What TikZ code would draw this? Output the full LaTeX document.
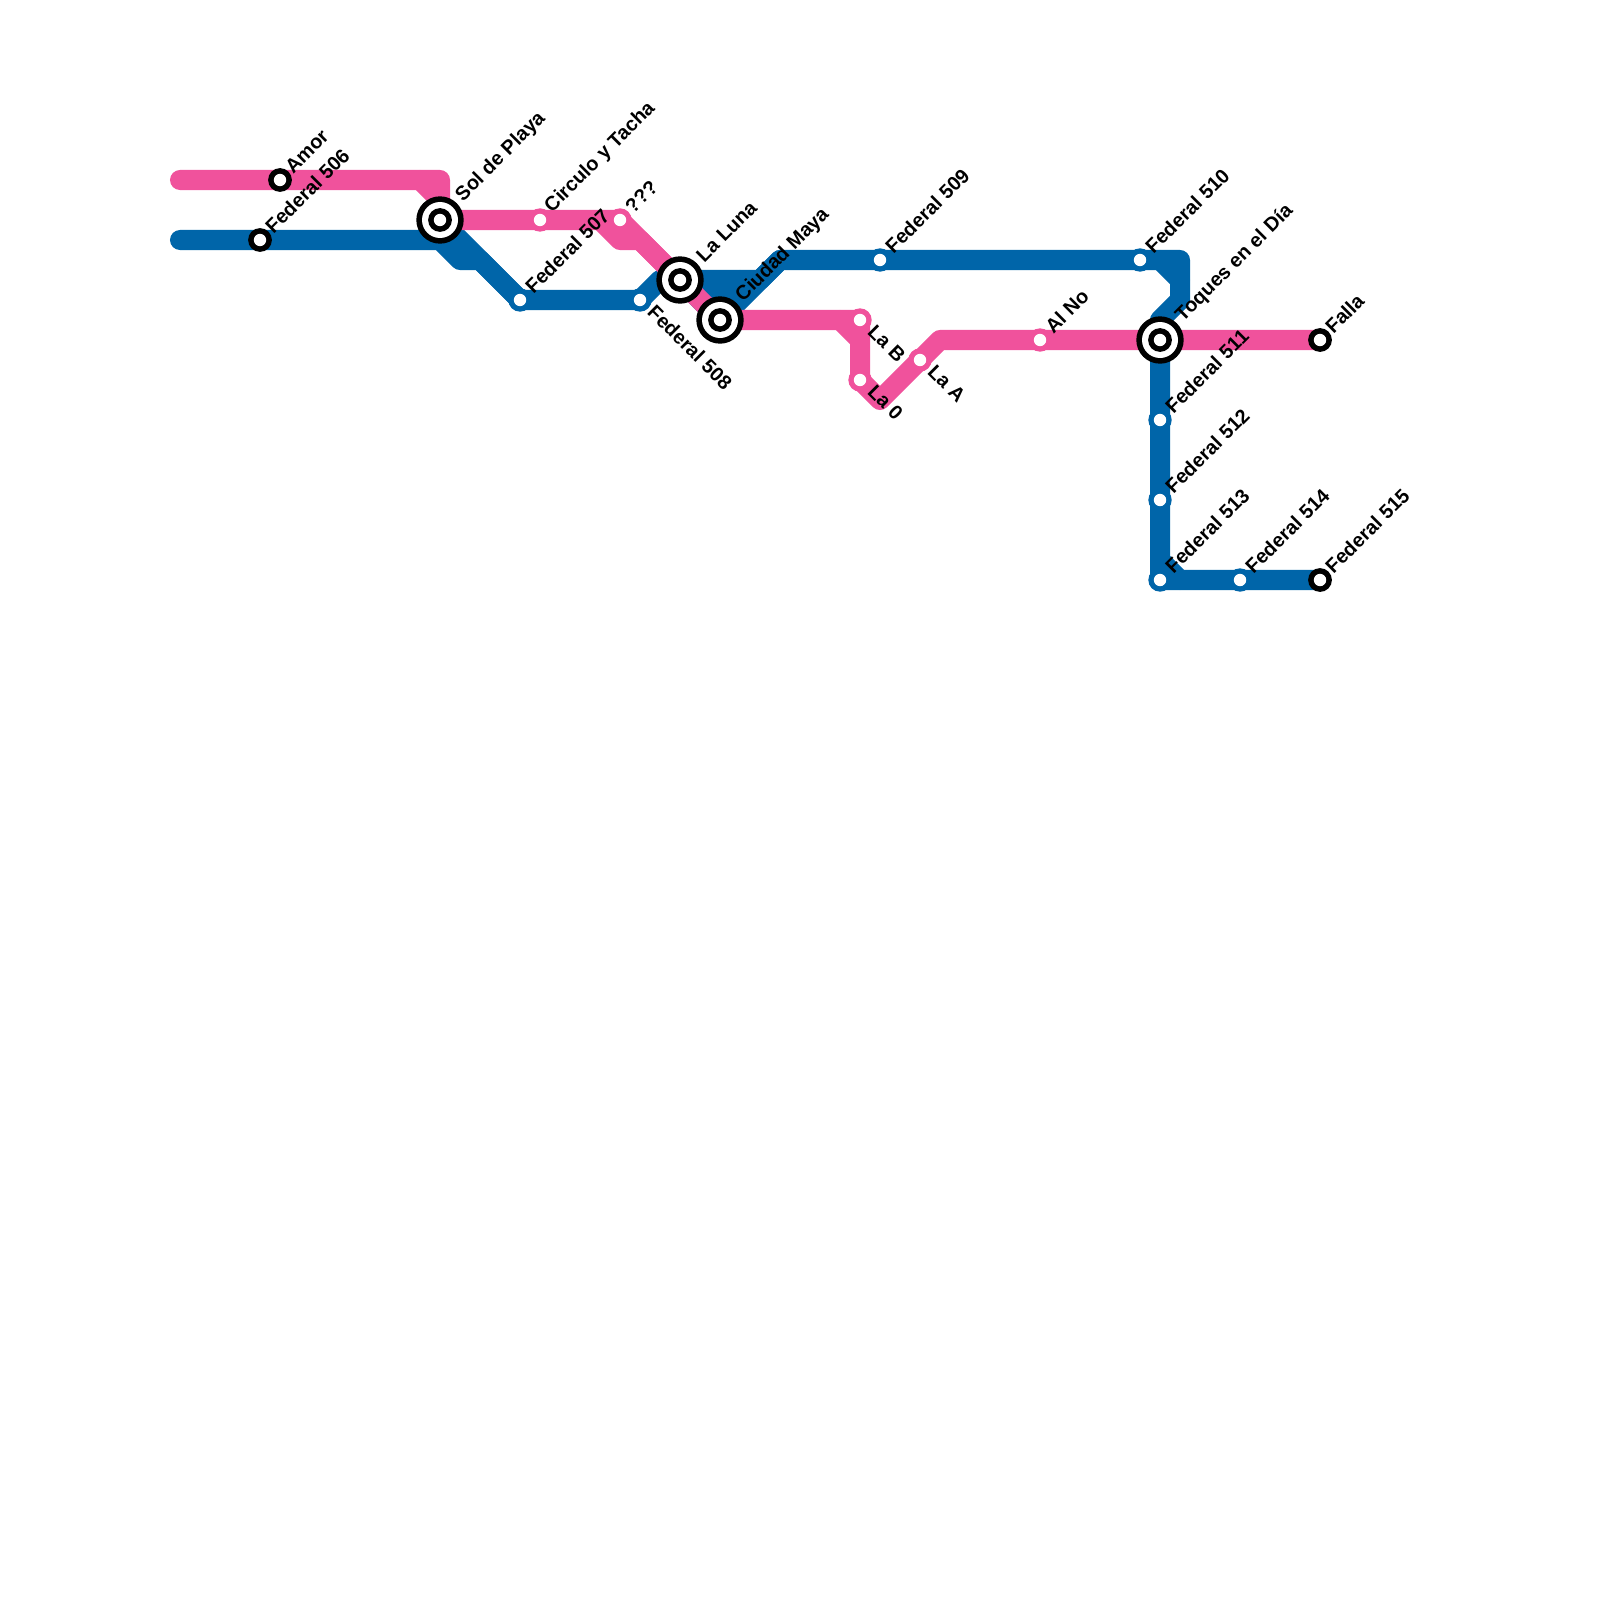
\documentclass[tikz,border=0pt]{standalone}
\usepackage{fontspec}
\setmainfont{Liberation Sans}
\usetikzlibrary{positioning}
\definecolor{lineblue}{HTML}{0065A9}
\definecolor{linepink}{HTML}{F0529C}
\tikzset{
  blueline/.style={lineblue, line width=5.69pt, line cap=round, line join=round},
  pinkline/.style={linepink, line width=5.69pt, line cap=round, line join=round},
  stationname/.style={font=\fontsize{5.65pt}{6.5pt}\selectfont\bfseries, rotate=45, anchor=west, inner sep=0pt, text=black},
  stationnamedown/.style={font=\fontsize{5.65pt}{6.5pt}\selectfont\bfseries, rotate=-45, anchor=west, inner sep=0pt, text=black}
}
\newcommand{\smallstop}[2]{%
  \fill[#1] (#2) circle (11.7);
  \fill[white] (#2) circle (6.2);
}
\newcommand{\termstop}[1]{%
  \fill[black] (#1) circle (11.9);
  \fill[white] (#1) circle (6.2);
}
\newcommand{\bigstop}[1]{%
  \fill[black] (#1) circle (23.7);
  \fill[white] (#1) circle (18);
  \fill[black] (#1) circle (11.9);
  \fill[white] (#1) circle (6.2);
}
\begin{document}
\begin{tikzpicture}[x=0.01cm, y=-0.01cm]
  \useasboundingbox (0,0) rectangle (1600,1600);
  % Stationen
  \foreach \name/\x/\y in {amor/280/180, fed506/260/240, sol/440/220, circulo/540/220,
    fed507/520/300, unknown/620/220, fed508/640/300, luna/680/280, maya/720/320,
    fed509/880/260, lab/860/320, lacero/860/380, laa/920/360, alno/1040/340,
    fed510/1140/260, toques/1160/340, falla/1320/340, fed511/1160/420,
    fed512/1160/500, fed513/1160/580, fed514/1240/580, fed515/1320/580}{
    \coordinate (\name) at (\x,\y);
  }
  % Eckpunkte
  \coordinate (pinkstart) at (180,180);
  \coordinate (bluestart) at (180,240);
  % blaue Linie
  \draw[blueline] (bluestart) -- (fed506) -- (440,240) -- (460,260) -- (480,260) -- (fed507) -- (fed508)
    -- (660,280) -- (760,280) -- (780,260) -- (fed509) -- (fed510) -- (1180,260) -- (1180,300)
    -- (1160,320) -- (toques) -- (fed511) -- (fed512) -- (fed513) -- (fed514) -- (fed515);
  \draw[blueline] (sol) -- (fed507);
  \draw[blueline] (luna) -- (maya) -- (780,260);
  \draw[blueline] (700,280) -- (720,300) -- (740,280);
  \draw[blueline] (1160,260) -- (1180,280);
  \draw[blueline] (1160,560) -- (1180,580);
  % rosa Linie
  \draw[pinkline] (pinkstart) -- (amor) -- (440,180) -- (sol) -- (circulo) -- (unknown) -- (luna);
  \draw[pinkline] (420,180) -- (440,200);
  \draw[pinkline] (600,220) -- (620,240) -- (640,240) -- (luna) -- (maya);
  \draw[pinkline] (maya) -- (lab) -- (lacero) -- (880,400) -- (laa) -- (940,340) -- (alno) -- (toques) -- (falla);
  \draw[pinkline] (840,320) -- (860,340);
  % Haltestellen
  \foreach \stop in {fed507, fed508, fed509, fed510, fed511, fed512, fed513, fed514}{
    \smallstop{lineblue}{\stop}
  }
  \foreach \stop in {circulo, unknown, lab, lacero, laa, alno}{
    \smallstop{linepink}{\stop}
  }
  \foreach \stop in {amor, fed506, falla, fed515}{
    \termstop{\stop}
  }
  \foreach \stop in {sol, luna, maya, toques}{
    \bigstop{\stop}
  }
  % Namen
  \foreach \stop/\txt in {amor/Amor, fed506/Federal 506, circulo/Circulo y Tacha, fed507/Federal 507,
    unknown/???, fed509/Federal 509, alno/Al No, fed510/Federal 510, falla/Falla, fed511/Federal 511,
    fed512/Federal 512, fed513/Federal 513, fed514/Federal 514, fed515/Federal 515}{
    \node[stationname] (\stop-name) at ([shift={(8,-10)}]\stop) {\txt};
  }
  \foreach \stop/\txt in {sol/Sol de Playa, luna/La Luna, maya/Ciudad Maya, toques/Toques en el Día}{
    \node[stationname] (\stop-name) at ([shift={(19,-21)}]\stop) {\txt};
  }
  \foreach \stop/\txt in {fed508/Federal 508, lab/La B, lacero/La 0, laa/La A}{
    \node[stationnamedown] (\stop-name) at ([shift={(11,8)}]\stop) {\txt};
  }
\end{tikzpicture}
\end{document}
